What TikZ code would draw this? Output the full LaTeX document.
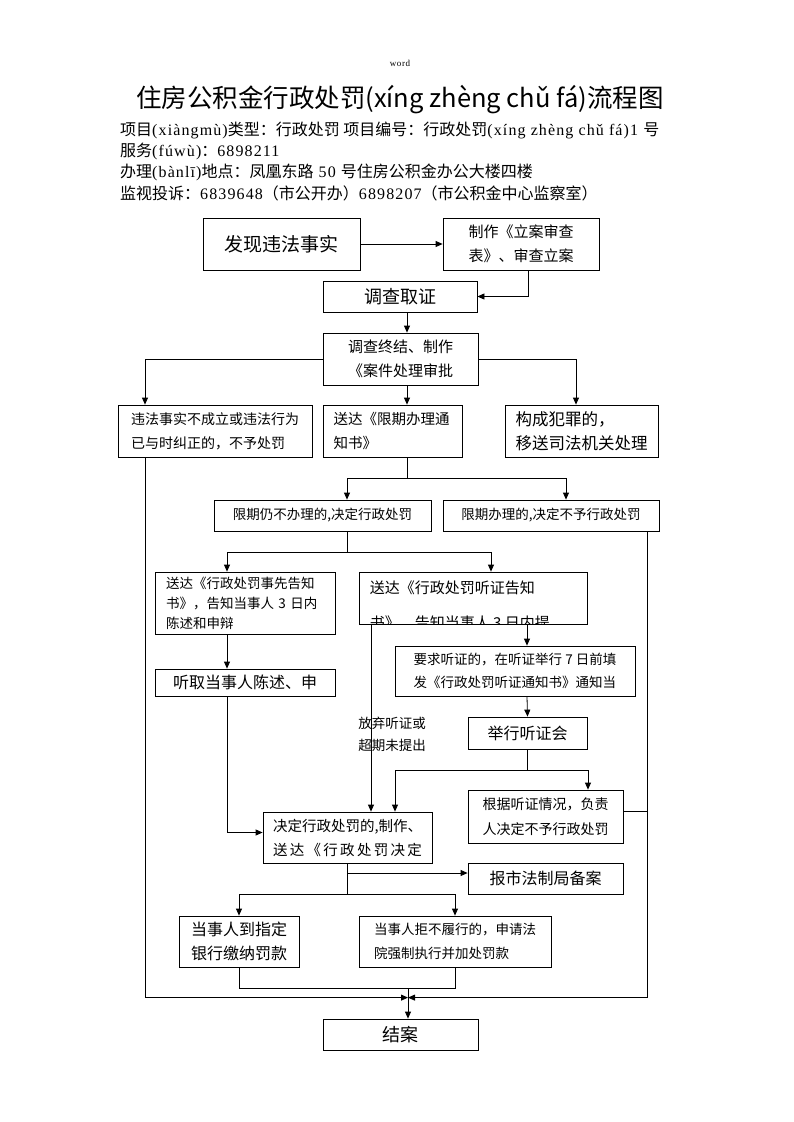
\documentclass[tikz,border=0pt]{standalone}
\usepackage{fontspec}
\setmainfont{Noto Sans CJK SC}
\newfontfamily\latn[LetterSpace=7]{Liberation Serif}
\usetikzlibrary{arrows.meta}

\begin{document}
\begin{tikzpicture}[x=1pt,y=-1pt,
    box/.style={draw, line width=0.8pt, inner sep=0pt},
    arr/.style={-{Stealth[length=7pt,width=6pt,inset=0pt]}, line width=0.8pt},
    ln/.style={line width=0.8pt},
    info/.style={anchor=west, inner sep=0pt, font=\fontsize{16}{18}\selectfont}]
    \useasboundingbox (0,0) rectangle (793,1122);

    % page header
    \node (word) at (400,63) {\latn\fontsize{9}{10}\selectfont word};
    \node (title) at (400,100) {\fontsize{25.5}{28}\selectfont 住房公积金行政处罚(xíng zhèng chǔ fá)流程图};
    \node[info] (info1) at (120,130) {项目{\latn (xiàngmù)}类型：行政处罚 项目编号：行政处罚{\latn (xíng zhèng chǔ fá)1 }号};
    \node[info] (info2) at (120,151) {服务{\latn (fúwù)}：{\latn 6898211}};
    \node[info] (info3) at (120,172) {办理{\latn (bànlī)}地点：凤凰东路{\latn\ 50 }号住房公积金办公大楼四楼};
    \node[info] (info4) at (120,193) {监视投诉：{\latn 6839648}（市公开办）{\latn 6898207}（市公积金中心监察室）};

    % case opening
    \node[box, minimum width=157, minimum height=52, font=\fontsize{19}{24}\selectfont] (faxian) at (281.5,244) {发现违法事实};
    \node[box, minimum width=156, minimum height=52, align=center, font=\fontsize{15}{24}\selectfont] (lian) at (521,244) {制作《立案审查\\表》、审查立案};
    \node[box, minimum width=154, minimum height=31, font=\fontsize{18}{22}\selectfont] (quzheng) at (400,296.5) {调查取证};
    \node[box, minimum width=155, minimum height=52, align=left, font=\fontsize{15}{24}\selectfont] (zhongjie) at (400.5,359) {调查终结、制作\\《案件处理审批};

    % three outcomes
    \node[box, minimum width=194, minimum height=52, align=left, font=\fontsize{14}{24}\selectfont] (buli) at (215,431) {违法事实不成立或违法行为\\已与时纠正的，不予处罚};
    \node[box, minimum width=139, minimum height=52, text width=118, align=left, font=\fontsize{14.5}{24}\selectfont] (xianqi) at (392.5,431) {送达《限期办理通\\知书》};
    \node[box, minimum width=153, minimum height=52, align=left, font=\fontsize{16.5}{24}\selectfont] (fanzui) at (581.5,431) {构成犯罪的，\\移送司法机关处理};

    \node[box, minimum width=217, minimum height=31, font=\fontsize{13.5}{18}\selectfont] (reng) at (322.5,515.5) {限期仍不办理的,决定行政处罚};
    \node[box, minimum width=216, minimum height=31, font=\fontsize{13.5}{18}\selectfont] (buyu) at (551,515.5) {限期办理的,决定不予行政处罚};

    % notice and hearing
    \node[box, minimum width=180, minimum height=62, text width=158, align=left, font=\fontsize{13.5}{20}\selectfont] (gaozhi) at (245,603) {送达《行政处罚事先告知\\书》，告知当事人 3 日内\\陈述和申辩};
    \node[box, minimum width=228, minimum height=52] (tingzheng) at (473,598) {};
    \begin{scope}
        \clip (tingzheng.south west) rectangle (tingzheng.north east);
        \node[anchor=north west, inner sep=0pt, align=left, font=\fontsize{15}{35}\selectfont] (tingzhengtxt) at ([shift={(11pt,-9pt)}]tingzheng.north west) {送达《行政处罚听证告知\\书》、告知当事人 3 日内提};
    \end{scope}
    \node[box, minimum width=180, minimum height=27, font=\fontsize{16}{20}\selectfont] (tingqu) at (245,682.5) {听取当事人陈述、申};
    \node[box, minimum width=240, minimum height=50, align=left, font=\fontsize{13.5}{23}\selectfont] (yaoqiu) at (515,671) {要求听证的，在听证举行 7 日前填\\发《行政处罚听证通知书》通知当};
    \node[box, minimum width=119, minimum height=32, font=\fontsize{16}{20}\selectfont] (juxing) at (527.5,733) {举行听证会};
    \node[box, minimum width=155, minimum height=53, align=left, font=\fontsize{14}{25}\selectfont] (genju) at (545.5,816.5) {根据听证情况，负责\\人决定不予行政处罚};
    \node[align=left, inner sep=0pt, font=\fontsize{13.5}{22}\selectfont] (fangqi) at (392,734) {放弃听证或\\超期未提出};

    % decision and execution
    \node[box, minimum width=169, minimum height=51, text width=149, align=left, font=\fontsize{14.5}{24}\selectfont] (jueding) at (347.5,837.5) {决定行政处罚的,制作、\\送\hfill 达\hfill 《\hfill 行\hfill 政\hfill 处\hfill 罚\hfill 决\hfill 定};
    \node[box, minimum width=155, minimum height=31, font=\fontsize{16}{20}\selectfont] (baoshi) at (545.5,878.5) {报市法制局备案};
    \node[box, minimum width=120, minimum height=51, align=center, font=\fontsize{16}{24}\selectfont] (yinhang) at (239,941.5) {当事人到指定\\银行缴纳罚款};
    \node[box, minimum width=192, minimum height=51, align=left, font=\fontsize{13.5}{24}\selectfont] (fayuan) at (455,941.5) {当事人拒不履行的，申请法\\院强制执行并加处罚款};
    \node[box, minimum width=155, minimum height=31, font=\fontsize{18}{22}\selectfont] (jiean) at (400.5,1034.5) {结案};

    % connectors, top part
    \draw[arr] (faxian) -- (lian);
    \draw[arr] ([xshift=7pt]lian.south) |- (quzheng.east);
    \draw[arr] ([xshift=7pt]quzheng.south) -- ([xshift=6.5pt]zhongjie.north);
    \draw[arr] (zhongjie.west) -| ([xshift=-70pt]buli.north);
    \draw[arr] (zhongjie.east) -| ([xshift=-5.5pt]fanzui.north);
    \draw[arr] ([xshift=6.5pt]zhongjie.south) -- ([xshift=14.5pt]xianqi.north);

    \draw[ln] ([xshift=14.5pt]xianqi.south) -- ++(0,21) coordinate (sxq);
    \draw[arr] (sxq) -| ([xshift=24.5pt]reng.north);
    \draw[arr] (sxq) -| ([xshift=15pt]buyu.north);

    \draw[ln] ([xshift=24.5pt]reng.south) -- ++(0,21) coordinate (srg);
    \draw[arr] (srg) -| ([xshift=-18pt]gaozhi.north);
    \draw[arr] (srg) -| ([xshift=18pt]tingzheng.north);

    % hearing branch
    \draw[arr] ([xshift=-18pt]gaozhi.south) -- ([xshift=-18pt]tingqu.north);
    \draw[arr] ([xshift=-18pt]tingqu.south) |- ([yshift=5pt]jueding.west);
    \draw[arr] ([xshift=-102pt]tingzheng.south) -- ([xshift=23.5pt]jueding.north);
    \draw[arr] ([xshift=54pt]tingzheng.south) -- ([xshift=12pt]yaoqiu.north);
    \draw[arr] ([xshift=12pt]yaoqiu.south) -- (juxing.north);
    \draw[ln] (juxing.south) -- ++(0,21) coordinate (sjx);
    \draw[arr] (sjx) -| ([xshift=47.5pt]jueding.north);
    \draw[arr] (sjx) -| ([xshift=42.5pt]genju.north);

    % decision branch
    \draw[arr] ([yshift=5.5pt]jueding.south |- baoshi.west) -- ([yshift=5.5pt]baoshi.west);
    \draw[ln] (jueding.south) -- ++(0,31) coordinate (sjd);
    \draw[arr] (sjd) -| (yinhang.north);
    \draw[arr] (sjd) -| (fayuan.north);

    % closing
    \coordinate (merge) at ([xshift=7.5pt,yshift=21pt]jiean.north);
    \coordinate (right) at ([xshift=96pt]buyu.south);
    \draw[arr] ([xshift=-70pt]buli.south) |- (merge);
    \draw[arr] (right) |- (merge);
    \draw[ln] ([yshift=5.5pt]genju.east) -- ([yshift=5.5pt]genju.east -| right);
    \draw[ln] (yinhang.south) -- ++(0,21) coordinate (syh) -| (fayuan.south);
    \draw[arr] (syh -| merge) -- ([xshift=7.5pt]jiean.north);
\end{tikzpicture}
\end{document}
